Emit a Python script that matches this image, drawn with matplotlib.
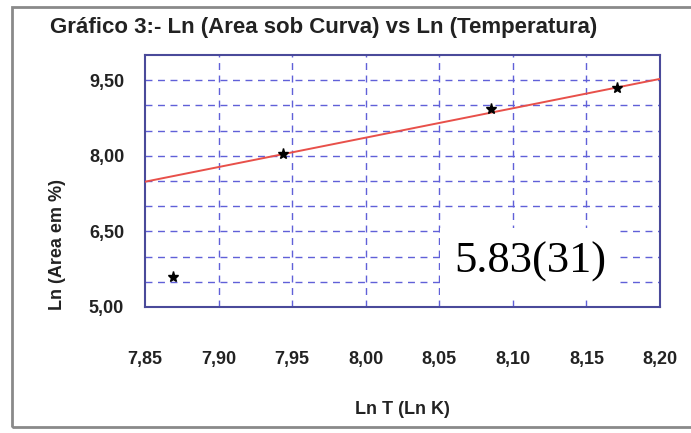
import matplotlib
matplotlib.use("Agg")
import matplotlib.pyplot as plt
from matplotlib.patches import Rectangle
import numpy as np

# ln of temperature (ln K) and ln of area under the curve (%)
ln_temp = [7.869, 7.944, 8.085, 8.171]
ln_area = [5.59, 8.03, 8.93, 9.34]

# fitted straight line, slope with uncertainty as printed
slope = 5.83
intercept = -38.28
slope_label = "5.83(31)"

x_ticks = [7.85, 7.90, 7.95, 8.00, 8.05, 8.10, 8.15, 8.20]
y_ticks = [5.00, 6.50, 8.00, 9.50]
y_grid = [5.5, 6.0, 6.5, 7.0, 7.5, 8.0, 8.5, 9.0, 9.5]


def fmt(v):
    return ("%.2f" % v).replace(".", ",")


def main():
    plt.rcParams["font.family"] = ["Liberation Sans", "DejaVu Sans"]
    fig = plt.figure(figsize=(6.91, 4.33), dpi=100)
    fig.patch.set_facecolor("white")

    # outer grey frame of the chart
    fig.add_artist(Rectangle((12 / 691, 6 / 433), 700 / 691, 420 / 433,
                             transform=fig.transFigure, fill=False,
                             edgecolor="#8a8a8a", linewidth=2.0))

    ax = fig.add_axes([145 / 691, 1 - 307 / 433, 515 / 691, 252 / 433])
    ax.set_xlim(7.85, 8.20)
    ax.set_ylim(5.0, 10.0)

    grid_kw = dict(color="#6060d8", linewidth=1.0, linestyle=(0, (5, 4)), zorder=1)
    for gy in y_grid:
        ax.axhline(gy, **grid_kw)
    for gx in x_ticks[1:-1]:
        ax.axvline(gx, **grid_kw)

    xs = np.array([7.85, 8.20])
    ax.plot(xs, slope * xs + intercept, color="#e8504a", linewidth=1.4, zorder=3)
    ax.plot(ln_temp, ln_area, linestyle="none", marker="*", markersize=8,
            color="black", zorder=4)

    ax.set_xticks(x_ticks)
    ax.set_xticklabels([fmt(v) for v in x_ticks])
    ax.set_yticks(y_ticks)
    ax.set_yticklabels([fmt(v) for v in y_ticks])
    ax.tick_params(axis="x", length=0, pad=32, labelsize=13)
    ax.tick_params(axis="y", length=0, pad=15, labelsize=13)
    for lab in ax.get_xticklabels() + ax.get_yticklabels():
        lab.set_fontweight("bold")
        lab.set_color("#222222")
    for sp in ax.spines.values():
        sp.set_color("#4a4a9a")
        sp.set_linewidth(1.5)

    fig.text(50 / 691, 1 - 27 / 433,
             "Gráfico 3:- Ln (Area sob Curva) vs Ln (Temperatura)",
             fontsize=16, fontweight="bold", color="#222222",
             ha="left", va="center")
    fig.text(402 / 691, 1 - 410 / 433, "Ln T (Ln K)", fontsize=13,
             fontweight="bold", color="#222222", ha="center", va="center")
    fig.text(57 / 691, 1 - 245 / 433, "Ln (Area em %)", fontsize=13,
             fontweight="bold", color="#222222", ha="center", va="center",
             rotation=90)

    fig.text(530 / 691, 1 - 262 / 433, slope_label, family="Liberation Serif",
             fontsize=32, color="black", ha="center", va="center", zorder=5,
             bbox=dict(facecolor="white", edgecolor="none", pad=10))

    fig.savefig("out.png", dpi=100)


if __name__ == "__main__":
    main()
